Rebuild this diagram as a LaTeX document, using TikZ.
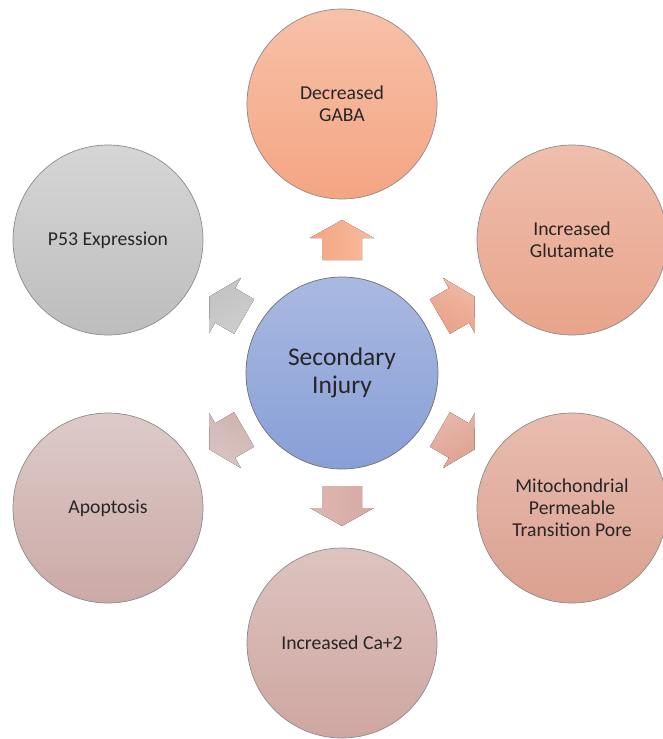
\documentclass[tikz,border=0pt]{standalone}
\usepackage{fontspec}
\setmainfont{Carlito}
\usetikzlibrary{calc}
\definecolor{txt}{HTML}{262626}
\definecolor{rim}{HTML}{8C8C8C}
\definecolor{injtop}{HTML}{A9B9E1}
\definecolor{injbot}{HTML}{889FD7}
\definecolor{gabatop}{HTML}{F7C1A9}
\definecolor{gababot}{HTML}{F4A582}
\definecolor{gluttop}{HTML}{EFBEAC}
\definecolor{glutbot}{HTML}{E8A48B}
\definecolor{mptptop}{HTML}{E8BDB0}
\definecolor{mptpbot}{HTML}{DBA090}
\definecolor{catop}{HTML}{DDC3BF}
\definecolor{cabot}{HTML}{CFA6A1}
\definecolor{apoptop}{HTML}{DDCBC9}
\definecolor{apopbot}{HTML}{CBA9A6}
\definecolor{ptop}{HTML}{D6D6D6}
\definecolor{pbot}{HTML}{BDBDBD}

\begin{document}
\begin{tikzpicture}[
      bub/.style={circle,draw=rim,line width=0.4pt,minimum size=3.8cm,inner sep=0pt,
        align=center,text=txt,font=\fontsize{11.2}{12.6}\selectfont},
      core/.style={bub,draw=rim!80!black,minimum size=3.84cm,font=\fontsize{14.5}{15.8}\selectfont},
    ]
    \useasboundingbox (0,0) rectangle (13.24,-14.78);
    \node[core,top color=injtop,bottom color=injbot] (inj) at (6.84,-7.46) {Secondary\\Injury};
  \node[bub,top color=gabatop,bottom color=gababot] (gaba) at (6.84,-2.08) {Decreased\\GABA};
  \node[bub,top color=gluttop,bottom color=glutbot] (glut) at (11.44,-4.80) {Increased\\Glutamate};
  \node[bub,top color=mptptop,bottom color=mptpbot] (mptp) at (11.44,-10.16) {Mitochondrial\\Permeable\\Transition Pore};
  \node[bub,top color=catop,bottom color=cabot] (ca) at (6.84,-12.86) {Increased Ca+2};
  \node[bub,top color=apoptop,bottom color=apopbot] (apop) at (2.16,-10.16) {Apoptosis};
  \node[bub,top color=ptop,bottom color=pbot] (p53) at (2.16,-4.80) {P53 Expression};
  % block arrows out of the core
  \foreach \a/\ct/\cb in {90/F7BB9E/F4A481, 30/F0B8A4/E9A189, -30/E7B7AA/DEA291,
      -90/DEB7B2/D6A9A3, -150/D9C5C3/CEB4B1, 150/CDCDCD/C2C2C2}{
    \definecolor{aT}{HTML}{\ct}\definecolor{aB}{HTML}{\cb}
    \begin{scope}[shift={($(inj)+(\a:2.66)$)},rotate=\a]
      \fill[top color=aT,bottom color=aB,shading angle=-\a]
        (-0.4,-0.4) -- (0.04,-0.4) -- (0.04,-0.64) -- (0.4,0)
        -- (0.04,0.64) -- (0.04,0.4) -- (-0.4,0.4) -- cycle;
    \end{scope}
  }
\end{tikzpicture}
\end{document}
